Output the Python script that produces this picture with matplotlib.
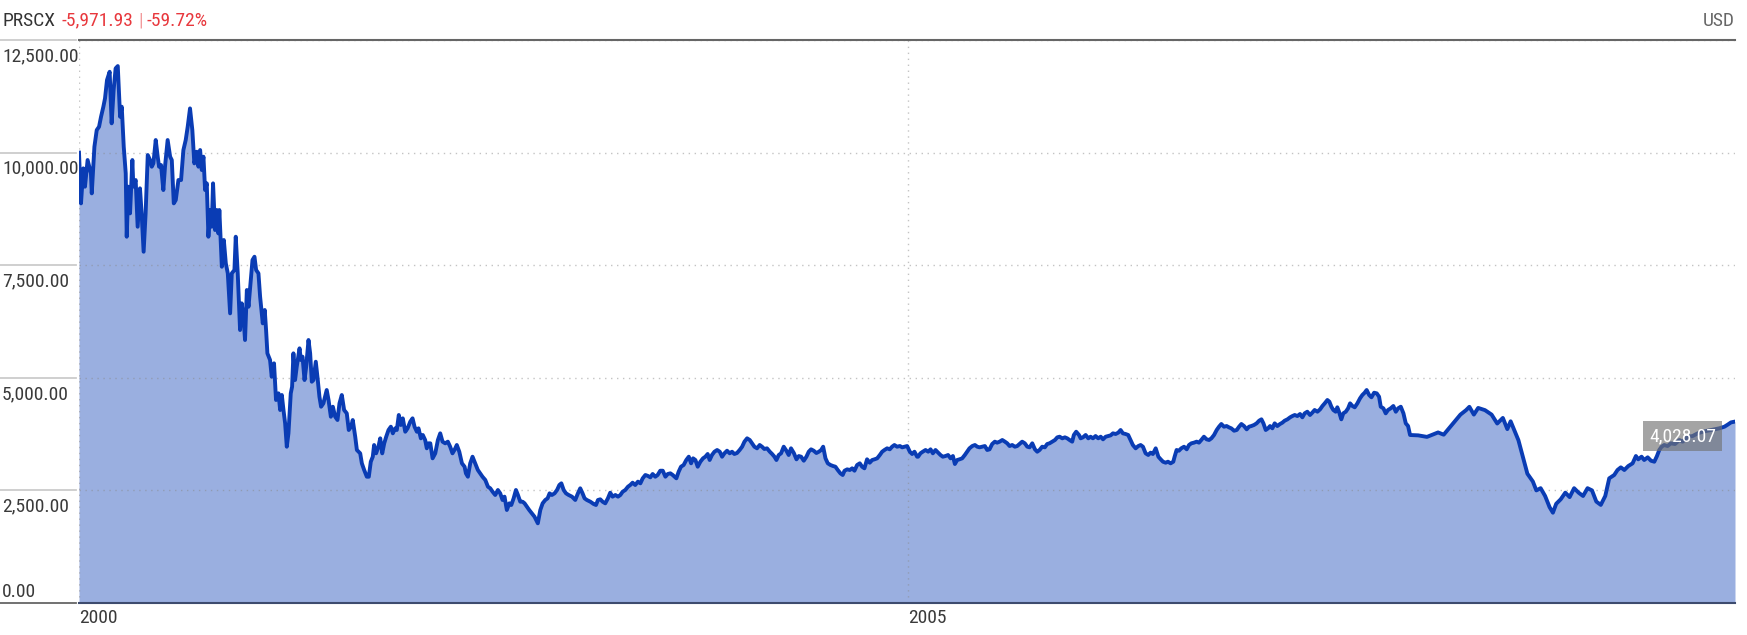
import numpy as np
import pandas as pd
import matplotlib
matplotlib.use("Agg")
import matplotlib.pyplot as plt
from matplotlib import transforms, font_manager

# the chart uses a condensed face; take the narrowest one that is installed
names = {f.name for f in font_manager.fontManager.ttflist}
narrow = [n for n in ["Roboto Condensed", "Liberation Sans Narrow", "DejaVu Sans Condensed"] if n in names]
plt.rcParams["font.family"] = narrow + ["Roboto", "DejaVu Sans"]
plt.rcParams["font.stretch"] = "condensed"
FS = 14.0 if narrow else 13.0

TICKER = "PRSCX"
CHANGE_ABS = "-5,971.93"
CHANGE_PCT = "-59.72%"
CURRENCY = "USD"
START = "2000-01-01"

# growth of 10,000 -- (years since start, value)
YEARS = [
    0.000, 0.012, 0.026, 0.036, 0.052, 0.072, 0.077, 0.093, 0.107, 0.121, 0.133, 0.147, 0.157, 0.169,
    0.185, 0.197, 0.209, 0.221, 0.234, 0.248, 0.258, 0.270, 0.282, 0.288, 0.298, 0.308, 0.322, 0.328,
    0.342, 0.354, 0.368, 0.378, 0.390, 0.402, 0.415, 0.429, 0.439, 0.449, 0.463, 0.475, 0.483, 0.495,
    0.509, 0.519, 0.535, 0.550, 0.560, 0.572, 0.584, 0.600, 0.616, 0.630, 0.644, 0.656, 0.670, 0.684,
    0.696, 0.711, 0.721, 0.731, 0.741, 0.751, 0.761, 0.771, 0.781, 0.791, 0.801, 0.809, 0.821, 0.831,
    0.841, 0.847, 0.862, 0.874, 0.886, 0.898, 0.912, 0.922, 0.938, 0.946, 0.958, 0.972, 0.982, 0.994,
    1.002, 1.013, 1.023, 1.033, 1.047, 1.059,
    1.069, 1.083, 1.093, 1.109, 1.121, 1.129, 1.137, 1.153, 1.163, 1.177, 1.189, 1.204, 1.214, 1.224,
    1.234, 1.244, 1.254, 1.264, 1.278, 1.286, 1.294, 1.304, 1.314, 1.331, 1.339, 1.349, 1.361, 1.371,
    1.385, 1.395, 1.405, 1.415, 1.429, 1.441, 1.451, 1.461, 1.475, 1.495, 1.506, 1.520, 1.532, 1.546,
    1.560, 1.572, 1.586, 1.600, 1.616, 1.628, 1.642, 1.652, 1.667, 1.677, 1.697, 1.707, 1.721, 1.737,
    1.749, 1.761, 1.773, 1.781, 1.793, 1.807, 1.818, 1.830, 1.842, 1.854, 1.868, 1.882, 1.894, 1.908,
    1.918, 1.930, 1.942, 1.954, 1.969, 1.983, 1.999, 2.013, 2.025, 2.039, 2.049, 2.063, 2.075, 2.089,
    2.099, 2.109,
    2.120, 2.134, 2.150, 2.166, 2.180, 2.194, 2.210, 2.226, 2.240, 2.254, 2.266, 2.280, 2.295, 2.311,
    2.327, 2.335, 2.347, 2.361, 2.375, 2.391, 2.407, 2.421, 2.435, 2.452, 2.468, 2.482, 2.496, 2.512,
    2.528, 2.542, 2.556, 2.568, 2.582, 2.597, 2.609, 2.623, 2.637, 2.649, 2.663, 2.677, 2.689, 2.703,
    2.717, 2.733, 2.749, 2.759, 2.769, 2.784, 2.798, 2.814, 2.828, 2.840, 2.854, 2.870, 2.885, 2.899,
    2.911, 2.925, 2.939, 2.955, 2.975, 2.995, 3.011, 3.025, 3.039, 3.051, 3.065, 3.086, 3.106, 3.120,
    3.132, 3.146, 3.160, 3.176, 3.192, 3.206, 3.220, 3.237, 3.253, 3.267, 3.281, 3.297, 3.313, 3.327,
    3.341, 3.357, 3.373, 3.388, 3.402, 3.418, 3.434, 3.448, 3.462, 3.478, 3.492, 3.508, 3.523, 3.539,
    3.553, 3.569, 3.583,
    3.605, 3.619, 3.633, 3.649, 3.665, 3.680, 3.694, 3.706, 3.720, 3.734, 3.750, 3.766, 3.780, 3.794,
    3.806, 3.820, 3.835, 3.851, 3.867, 3.881, 3.895, 3.911, 3.927, 3.941, 3.955, 3.971, 3.987, 4.002,
    4.016, 4.032, 4.048, 4.062, 4.076, 4.092, 4.108, 4.122, 4.136, 4.152, 4.169, 4.183, 4.197, 4.209,
    4.223, 4.237, 4.253, 4.269, 4.283, 4.297, 4.314, 4.330, 4.344, 4.358, 4.374, 4.390, 4.404, 4.418,
    4.434, 4.450, 4.465, 4.479, 4.491, 4.505, 4.519, 4.535, 4.551, 4.565, 4.579, 4.595, 4.609, 4.620,
    4.636, 4.652, 4.666, 4.680, 4.696, 4.712, 4.726, 4.740, 4.756, 4.772, 4.787, 4.801, 4.817, 4.833,
    4.847, 4.861, 4.877, 4.893, 4.907, 4.921, 4.937, 4.954, 4.968, 4.982, 4.998, 5.014, 5.028, 5.042,
    5.058,
    5.064, 5.078, 5.092, 5.109, 5.125, 5.139, 5.153, 5.169, 5.185, 5.199, 5.213, 5.229, 5.245, 5.260,
    5.274, 5.286, 5.300, 5.314, 5.330, 5.346, 5.360, 5.374, 5.391, 5.407, 5.421, 5.435, 5.451, 5.467,
    5.481, 5.495, 5.511, 5.527, 5.541, 5.556, 5.572, 5.588, 5.602, 5.616, 5.632, 5.648, 5.662, 5.676,
    5.692, 5.708, 5.723, 5.737, 5.753, 5.769, 5.783, 5.797, 5.813, 5.829, 5.843, 5.857, 5.874, 5.890,
    5.904, 5.918, 5.934, 5.950, 5.964, 5.978, 5.994, 6.004, 6.018, 6.035, 6.045, 6.059, 6.075, 6.091,
    6.105, 6.119, 6.135, 6.151, 6.166, 6.180, 6.196, 6.212, 6.226, 6.240, 6.256, 6.272, 6.286, 6.300,
    6.316, 6.332, 6.346, 6.360, 6.377, 6.393, 6.407, 6.421, 6.437, 6.453, 6.467, 6.481, 6.498, 6.514,
    6.528, 6.542,
    6.558, 6.572, 6.588, 6.604, 6.612, 6.624, 6.638, 6.652, 6.669, 6.685, 6.699, 6.713, 6.729, 6.745,
    6.759, 6.773, 6.789, 6.805, 6.820, 6.834, 6.850, 6.866, 6.880, 6.894, 6.910, 6.926, 6.940, 6.954,
    6.971, 6.987, 7.001, 7.015, 7.031, 7.047, 7.061, 7.075, 7.091, 7.107, 7.122, 7.136, 7.148, 7.162,
    7.176, 7.188, 7.202, 7.216, 7.232, 7.248, 7.262, 7.276, 7.293, 7.309, 7.323, 7.337, 7.353, 7.369,
    7.383, 7.397, 7.413, 7.429, 7.443, 7.457, 7.474, 7.490, 7.504, 7.518, 7.534, 7.546, 7.558, 7.570,
    7.584, 7.594, 7.604, 7.618, 7.630, 7.645, 7.659, 7.671, 7.685, 7.699, 7.715, 7.731, 7.745, 7.759,
    7.771, 7.786, 7.800, 7.816, 7.832, 7.846, 7.856, 7.872, 7.886, 7.900, 7.916, 7.932, 7.947, 7.961,
    7.977, 7.993, 8.007, 8.021, 8.033,
    8.082, 8.135, 8.202, 8.236, 8.270, 8.303, 8.337, 8.371, 8.391, 8.418, 8.444, 8.485, 8.525, 8.559,
    8.593, 8.620, 8.640, 8.687, 8.714, 8.741, 8.774, 8.795, 8.821, 8.848, 8.875, 8.895, 8.915, 8.942,
    8.970, 8.996, 9.023, 9.050, 9.077, 9.104, 9.131, 9.157, 9.184, 9.211,
    9.235, 9.265, 9.285, 9.305, 9.326, 9.350, 9.376, 9.396, 9.410, 9.430, 9.446, 9.467, 9.487, 9.507,
    9.523, 9.537, 9.551, 9.567, 9.587, 9.607, 9.632, 9.658, 9.678, 9.708, 9.738, 9.769, 9.799, 9.829,
    9.869, 9.899, 9.930, 9.950, 9.970, 9.994,
]
VALUES = [
    10000, 8873, 9650, 9243, 9835, 9539, 9095, 10130, 10500, 10574, 10796, 11018, 11204, 11611,
    11795, 10650, 11389, 11870, 11921, 10796, 11018, 10130, 9539, 8132, 9243, 8651, 9835, 9243,
    9391, 8354, 9206, 8651, 7799, 8651, 9946, 9835, 9687, 9761, 10279, 9909, 9687, 9724,
    9169, 9687, 10279, 9909, 9835, 8873, 8947, 9391, 9391, 10057, 10279, 10574, 10981, 10500,
    9761, 10019, 9687, 10057, 9613, 9909, 9169, 9317, 8132, 8725, 8354, 9317, 8281, 8725,
    8207, 8725, 7466, 8059, 7541, 7319, 6431, 7319, 7393, 8132, 7319, 6061, 6653, 6283,
    5839, 6949, 6578, 7022, 7615, 7688,
    7393, 7319, 6800, 6209, 6505, 6061, 5543, 5395, 5024, 5321, 4507, 4655, 4285, 4618,
    4285, 3989, 3470, 3767, 4655, 4802, 5543, 4951, 5246, 5654, 5395, 5469, 4951, 5246,
    5839, 5543, 4913, 4951, 5357, 4951, 4580, 4358, 4433, 4729, 4507, 4136, 4358, 4136,
    4063, 4433, 4618, 4285, 4211, 3841, 3914, 4063, 3692, 3397, 3323, 3101, 2953, 2804,
    2804, 3137, 3248, 3508, 3323, 3470, 3656, 3323, 3545, 3692, 3841, 3914, 3767, 3878,
    3841, 4174, 3952, 4100, 3803, 3878, 4025, 4100, 3914, 3803, 3878, 3656, 3730, 3619,
    3434, 3545,
    3545, 3212, 3323, 3619, 3767, 3582, 3545, 3582, 3470, 3323, 3397, 3508, 3360, 3101,
    3026, 2879, 2804, 3101, 3248, 3101, 2953, 2879, 2804, 2731, 2582, 2546, 2471, 2398,
    2509, 2435, 2287, 2361, 2065, 2213, 2176, 2324, 2509, 2398, 2249, 2249, 2213, 2138,
    2065, 1991, 1916, 1843, 1769, 2065, 2213, 2287, 2324, 2435, 2398, 2435, 2509, 2620,
    2657, 2509, 2435, 2398, 2361, 2287, 2435, 2546, 2435, 2324, 2287, 2249, 2198, 2176,
    2287, 2302, 2249, 2213, 2324, 2449, 2361, 2398, 2361, 2398, 2471, 2509, 2582, 2620,
    2671, 2620, 2694, 2657, 2768, 2842, 2820, 2790, 2864, 2804, 2842, 2937, 2937, 2804,
    2864, 2879, 2842,
    2768, 2915, 3026, 3064, 3175, 3248, 3101, 3212, 3175, 3026, 3137, 3212, 3248, 3308,
    3175, 3286, 3359, 3397, 3359, 3248, 3323, 3381, 3323, 3359, 3308, 3330, 3397, 3470,
    3582, 3656, 3619, 3545, 3470, 3434, 3508, 3470, 3419, 3434, 3359, 3308, 3248, 3175,
    3286, 3323, 3470, 3381, 3286, 3434, 3330, 3190, 3263, 3248, 3159, 3248, 3359, 3412,
    3381, 3330, 3359, 3397, 3470, 3212, 3101, 3064, 3041, 3026, 2953, 2879, 2842, 2937,
    2967, 2953, 2990, 2937, 3064, 3101, 3026, 2990, 3190, 3115, 3175, 3190, 3212, 3286,
    3359, 3397, 3434, 3412, 3470, 3508, 3470, 3485, 3456, 3470, 3485, 3359, 3308, 3359,
    3248,
    3248, 3323, 3359, 3397, 3359, 3412, 3323, 3397, 3338, 3286, 3248, 3263, 3286, 3212,
    3263, 3086, 3175, 3190, 3212, 3286, 3359, 3434, 3485, 3508, 3470, 3456, 3470, 3485,
    3397, 3412, 3530, 3582, 3560, 3582, 3619, 3582, 3545, 3485, 3508, 3470, 3485, 3530,
    3582, 3545, 3470, 3456, 3545, 3412, 3359, 3397, 3470, 3456, 3530, 3545, 3582, 3619,
    3678, 3692, 3656, 3678, 3656, 3619, 3582, 3730, 3803, 3730, 3656, 3678, 3730, 3656,
    3692, 3656, 3707, 3656, 3692, 3634, 3692, 3707, 3722, 3767, 3752, 3782, 3841, 3767,
    3752, 3730, 3619, 3508, 3434, 3485, 3508, 3470, 3323, 3286, 3338, 3308, 3434, 3248,
    3190, 3137,
    3115, 3137, 3101, 3137, 3248, 3397, 3381, 3434, 3470, 3412, 3508, 3545, 3560, 3582,
    3560, 3619, 3692, 3634, 3619, 3656, 3730, 3841, 3914, 3974, 3914, 3929, 3900, 3878,
    3825, 3841, 3914, 3974, 3929, 3856, 3914, 3929, 3952, 3989, 4047, 4078, 3989, 3841,
    3878, 3929, 3878, 3989, 3929, 3974, 4003, 4047, 4078, 4122, 4151, 4174, 4151, 4196,
    4122, 4211, 4247, 4174, 4226, 4285, 4247, 4300, 4374, 4433, 4507, 4470, 4358, 4285,
    4247, 4345, 4247, 4078, 4211, 4247, 4322, 4433, 4374, 4345, 4433, 4544, 4618, 4669,
    4729, 4618, 4567, 4669, 4654, 4580, 4358, 4322, 4211, 4285, 4322, 4374, 4247, 4322,
    4358, 4211, 3989, 3929, 3730,
    3722, 3688, 3787, 3737, 3886, 4034, 4183, 4282, 4356, 4183, 4331, 4282, 4183, 3985,
    4109, 3861, 4034, 3614, 3242, 2871, 2698, 2500, 2549, 2376, 2128, 2005, 2203, 2302,
    2450, 2351, 2549, 2450, 2376, 2549, 2500, 2252, 2178, 2376,
    2768, 2842, 2953, 3012, 2953, 3041, 3101, 3263, 3190, 3248, 3175, 3234, 3159, 3137,
    3263, 3397, 3470, 3508, 3485, 3545, 3530, 3619, 3582, 3692, 3707, 3767, 3803, 3825,
    3856, 3878, 3914, 3960, 4010, 4028.07,
]

Y_TICKS = [0, 2500, 5000, 7500, 10000, 12500]
X_TICKS = ["2000-01-01", "2005-01-01"]
X_LABELS = ["2000", "2005"]

dates = pd.Timestamp(START) + pd.to_timedelta(np.array(YEARS) * 365.25, unit="D")

W, H = 1747, 635
fig = plt.figure(figsize=(W / 100, H / 100), dpi=100)
ax = fig.add_axes([79 / W, 1 - 603 / H, (1735 - 79) / W, (603 - 40) / H])

ax.fill_between(dates, VALUES, color="#9aafe0", lw=0, zorder=1)
ax.plot(dates, VALUES, color="#0a3cb4", lw=2.8, zorder=3, solid_joinstyle="round")

ax.set_xlim(dates[0], dates[-1])
ax.set_ylim(0, 12500)
ax.set_yticks(Y_TICKS)
ax.set_xticks(pd.to_datetime(X_TICKS), X_LABELS)
ax.tick_params(axis="y", length=0, labelleft=False)
ax.tick_params(axis="x", length=0, pad=4.5, labelsize=FS, labelcolor="#3a3a3a")
for lbl in ax.get_xticklabels():
    lbl.set_ha("left")
ax.set_axisbelow("line")
ax.grid(True, color="#888888", alpha=0.5, lw=1.0, ls=(0, (1, 3.3)))

for side in ["left", "right"]:
    ax.spines[side].set_visible(False)
ax.spines["top"].set_color("#666666")
ax.spines["top"].set_linewidth(1.5)
ax.spines["bottom"].set_color("#3d4b6e")
ax.spines["bottom"].set_linewidth(1.5)

# value labels in the left margin, each with its own short rule
trans = transforms.blended_transform_factory(fig.transFigure, ax.transData)
for v in Y_TICKS:
    ax.plot([0, 76 / W], [v, v], transform=trans, clip_on=False,
            color="#666666" if v == 0 else "#cccccc", lw=1.3)
    dy = 4.3 if v == 0 else -15.3
    ax.annotate(f"{v:,.2f}", xy=(2 / W, v), xycoords=trans, xytext=(0, dy),
                textcoords="offset points", ha="left", va="baseline",
                fontsize=FS, color="#3a3a3a", annotation_clip=False)

# last value tag
ax.annotate(f"{VALUES[-1]:,.2f}", xy=(dates[-1], VALUES[-1]), xytext=(-13.5, -4),
            textcoords="offset points", ha="right", va="top", fontsize=FS, color="white",
            zorder=5, bbox=dict(boxstyle="square,pad=0.3", fc=(0.45, 0.45, 0.45, 0.65), ec="none"))

# header: ticker, change, percentage chained one after another
base_y = 1 - 29.5 / H
t1 = fig.text(2 / W, base_y, TICKER, fontsize=FS, color="#333333", va="bottom")
t2 = ax.annotate(CHANGE_ABS, xy=(1, 0), xycoords=t1, xytext=(5, 0), textcoords="offset points",
                 fontsize=FS, color="#e8383d", va="bottom", ha="left", annotation_clip=False)
t3 = ax.annotate("|", xy=(1, 0), xycoords=t2, xytext=(3, 0), textcoords="offset points",
                 fontsize=FS, color="#f29a9c", va="bottom", ha="left", annotation_clip=False)
ax.annotate(CHANGE_PCT, xy=(1, 0), xycoords=t3, xytext=(3, 0), textcoords="offset points",
            fontsize=FS, color="#e8383d", va="bottom", ha="left", annotation_clip=False)
fig.text(1735 / W, base_y, CURRENCY, fontsize=FS, color="#666666", va="bottom", ha="right")

fig.savefig("out.png", dpi=100, facecolor="white")
